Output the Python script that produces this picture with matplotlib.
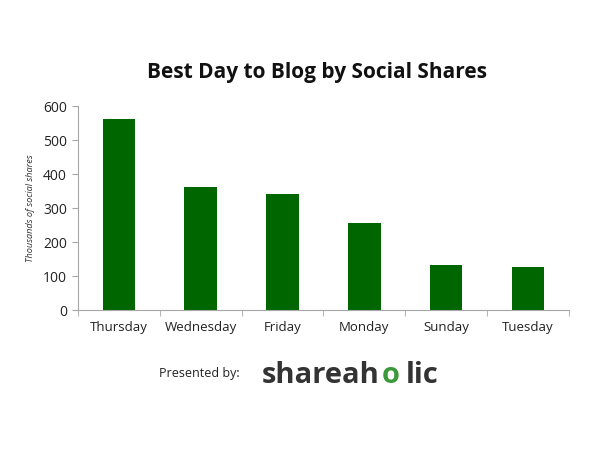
import matplotlib.pyplot as plt

# data (thousands of social shares)
days = ['Thursday', 'Wednesday', 'Friday', 'Monday', 'Sunday', 'Tuesday']
shares = [563, 362, 341, 255, 132, 126]

bar_color = '#006600'
axis_color = '#a6a6a6'
font = 'Open Sans'

fig = plt.figure(figsize=(6, 4.5), dpi=100)
ax = fig.add_axes([0.13, 0.311, 0.818, 0.453])

x = range(len(days))
ax.bar(x, shares, width=0.4, color=bar_color)

ax.set_xlim(-0.5, len(days) - 0.5)
ax.set_ylim(0, 600)
ax.set_yticks(range(0, 601, 100))
ax.set_xticks(list(x))
ax.set_xticklabels(days, fontfamily=font, fontsize=9.5, color='#222222')
ax.set_xticks([i - 0.5 for i in range(len(days) + 1)], minor=True)
ax.tick_params(axis='x', which='major', length=0, pad=8)
ax.tick_params(axis='x', which='minor', length=4, color=axis_color, direction='out')
ax.tick_params(axis='y', length=4, color=axis_color, direction='out', pad=4)
for lbl in ax.get_yticklabels():
    lbl.set_fontfamily(font)
    lbl.set_fontsize(10)
    lbl.set_color('#222222')

for side in ['top', 'right']:
    ax.spines[side].set_visible(False)
ax.spines['left'].set_color(axis_color)
ax.spines['bottom'].set_color(axis_color)

ax.set_ylabel('Thousands of social shares', fontfamily=font, fontsize=6.6,
              style='italic', color='#333333', labelpad=6)

fig.text(0.528, 0.838, 'Best Day to Blog by Social Shares', ha='center', va='center',
         fontfamily=font, fontsize=15, fontweight='bold', color='#111111')

# footer: "Presented by:" and the shareaholic wordmark
fig.text(0.333, 0.171, 'Presented by:', ha='center', va='center',
         fontfamily=font, fontsize=9, color='#222222')
fig.text(0.437, 0.165, 'shareah', ha='left', va='center',
         fontfamily=font, fontsize=21, fontweight='bold', color='#333333')
fig.text(0.636, 0.165, 'o', ha='left', va='center',
         fontfamily=font, fontsize=21, fontweight='bold', color='#3a9a3a')
fig.text(0.676, 0.165, 'lic', ha='left', va='center',
         fontfamily=font, fontsize=21, fontweight='bold', color='#333333')

fig.savefig('out.png', dpi=100, facecolor='white')
